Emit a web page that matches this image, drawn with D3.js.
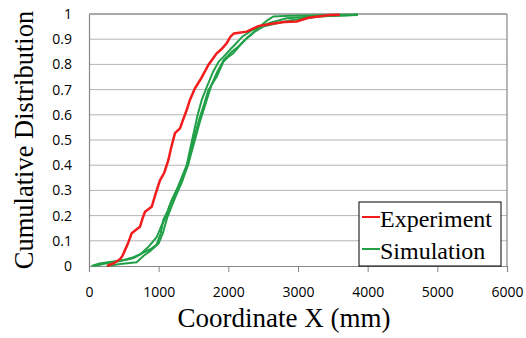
<!DOCTYPE html>
<html lang="en">
<head>
  <meta charset="UTF-8">
  <title>Cumulative Distribution</title>
  <script src="https://cdnjs.cloudflare.com/ajax/libs/d3/7.8.5/d3.min.js"></script>
  <style>
    body { margin: 0; background: #fff; }
  </style>
</head>
<body>
  <svg width="526" height="338"></svg>

  <script>
    const width = 526, height = 338;
    const margin = { top: 14, right: 19, bottom: 72, left: 89 };
    const serif = "'Liberation Serif', 'Times New Roman', serif";
    const sans = "'Open Sans', 'Liberation Sans', sans-serif";

    // tick values
    const xTicks = [0, 1000, 2000, 3000, 4000, 5000, 6000];
    const yTicks = [0, 0.1, 0.2, 0.3, 0.4, 0.5, 0.6, 0.7, 0.8, 0.9, 1];

    // [coordinate X (mm), cumulative distribution]
    const experiment = [[260,0],[350,0.01],[445,0.027],[480,0.04],[517,0.063],[560,0.09],[613,0.13],[680,0.145],[732,0.156],[770,0.19],[804,0.215],[900,0.235],[960,0.29],[1019,0.34],[1080,0.37],[1139,0.42],[1180,0.47],[1234,0.527],[1306,0.546],[1350,0.58],[1402,0.619],[1450,0.66],[1521,0.705],[1600,0.74],[1660,0.77],[1713,0.798],[1833,0.844],[1900,0.86],[1976,0.884],[2030,0.91],[2081,0.923],[2263,0.93],[2340,0.94],[2430,0.952],[2600,0.96],[2800,0.968],[2981,0.97],[3150,0.985],[3459,0.996],[3600,0.997]];

    const simulation1 = [[38,0],[150,0.01],[300,0.016],[541,0.025],[640,0.032],[732,0.045],[850,0.075],[971,0.114],[1040,0.16],[1115,0.2],[1160,0.24],[1210,0.27],[1300,0.33],[1402,0.4],[1480,0.5],[1560,0.6],[1620,0.66],[1690,0.71],[1780,0.77],[1860,0.81],[1930,0.83],[2030,0.86],[2100,0.88],[2200,0.91],[2335,0.935],[2450,0.95],[2560,0.975],[2646,0.99],[2885,0.993],[3861,0.998]];

    const simulation2 = [[80,0],[200,0.008],[450,0.02],[640,0.035],[760,0.05],[900,0.07],[971,0.085],[1030,0.13],[1067,0.183],[1130,0.22],[1187,0.262],[1282,0.315],[1350,0.36],[1420,0.4],[1498,0.5],[1593,0.592],[1650,0.64],[1713,0.698],[1833,0.751],[1928,0.81],[2000,0.83],[2071,0.844],[2180,0.88],[2263,0.904],[2350,0.925],[2454,0.95],[2600,0.965],[2837,0.983],[3200,0.99],[3861,0.996]];

    const simulation3 = [[254,0],[450,0.008],[684,0.015],[780,0.04],[880,0.06],[1000,0.09],[1060,0.13],[1120,0.19],[1190,0.24],[1250,0.28],[1330,0.33],[1420,0.4],[1520,0.5],[1600,0.58],[1680,0.65],[1760,0.72],[1840,0.77],[1940,0.82],[2050,0.85],[2140,0.87],[2250,0.9],[2380,0.93],[2500,0.95],[2650,0.96],[2900,0.975],[3300,0.99],[3861,0.997]];

    const red = "#f21c1c", green = "#22a048";

    const svg = d3.select("svg");
    const x = d3.scaleLinear().domain([0, 6000]).range([margin.left, width - margin.right]);
    const y = d3.scaleLinear().domain([0, 1]).range([height - margin.bottom, margin.top]);

    // gridlines
    svg.append("g")
      .selectAll("line")
      .data(yTicks.slice(1, -1))
      .join("line")
      .attr("x1", x(0)).attr("x2", x(6000))
      .attr("y1", d => y(d)).attr("y2", d => y(d))
      .attr("stroke", "#b4b4b4").attr("stroke-width", 1);

    // plot border: top dark, right gray
    svg.append("line")
      .attr("x1", x(0)).attr("x2", x(6000)).attr("y1", y(1)).attr("y2", y(1))
      .attr("stroke", "#555").attr("stroke-width", 1.2);
    svg.append("line")
      .attr("x1", x(6000)).attr("x2", x(6000)).attr("y1", y(1)).attr("y2", y(0))
      .attr("stroke", "#888").attr("stroke-width", 1.2);

    // x axis
    const xAxis = svg.append("g")
      .attr("transform", `translate(0,${y(0)})`)
      .call(d3.axisBottom(x).tickValues(xTicks).tickSize(6).tickPadding(15).tickFormat(d3.format("d")));
    xAxis.select(".domain").attr("stroke", "#888").attr("stroke-width", 1.2);
    xAxis.selectAll(".tick line").attr("stroke", "#888");
    xAxis.selectAll(".tick text").style("font-family", sans).style("font-size", "14px").attr("fill", "#000");

    // y axis
    const yAxis = svg.append("g")
      .attr("transform", `translate(${x(0)},0)`)
      .call(d3.axisLeft(y).tickValues(yTicks).tickSize(0).tickPadding(17)
        .tickFormat(d => d === 0 ? "0" : d === 1 ? "1" : d3.format(".1f")(d)));
    yAxis.select(".domain").attr("stroke", "#888").attr("stroke-width", 1.2);
    yAxis.selectAll(".tick text").style("font-family", sans).style("font-size", "14px").attr("fill", "#000");

    const line = d3.line().x(d => x(d[0])).y(d => y(d[1]));

    [simulation1, simulation2, simulation3].forEach(s => {
      svg.append("path")
        .datum(s)
        .attr("d", line)
        .attr("fill", "none")
        .attr("stroke", green)
        .attr("stroke-width", 2);
    });

    svg.append("path")
      .datum(experiment)
      .attr("d", line)
      .attr("fill", "none")
      .attr("stroke", red)
      .attr("stroke-width", 2.5);

    // legend
    const legend = svg.append("g");
    legend.append("rect")
      .attr("x", 359).attr("y", 202).attr("width", 142).attr("height", 64)
      .attr("fill", "#fff").attr("stroke", "#000").attr("stroke-width", 1);
    const items = [{ name: "Experiment", color: red }, { name: "Simulation", color: green }];
    items.forEach((it, i) => {
      const cy = 217 + i * 32;
      legend.append("line")
        .attr("x1", 362).attr("x2", 380).attr("y1", cy).attr("y2", cy)
        .attr("stroke", it.color).attr("stroke-width", 2);
      legend.append("text")
        .style("font-family", serif).style("font-size", "24px")
        .attr("x", 380).attr("y", cy + 10)
        .text(it.name);
    });

    // axis titles
    svg.append("text")
      .style("font-family", serif).style("font-size", "27px")
      .attr("text-anchor", "middle")
      .attr("x", 284).attr("y", 327)
      .text("Coordinate X (mm)");

    svg.append("text")
      .style("font-family", serif).style("font-size", "26.5px")
      .attr("text-anchor", "middle")
      .attr("transform", "translate(33,140) rotate(-90)")
      .text("Cumulative Distribution");
  </script>
</body>
</html>
